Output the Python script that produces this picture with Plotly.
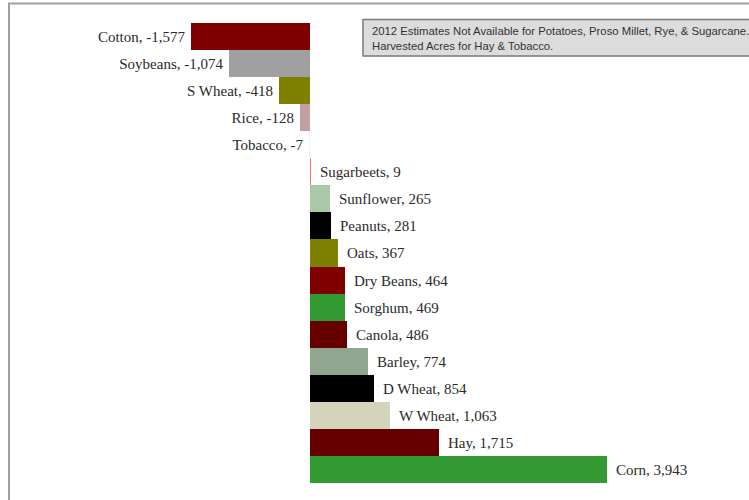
import plotly.graph_objects as go

crops = ["Cotton", "Soybeans", "S Wheat", "Rice", "Tobacco", "Sugarbeets", "Sunflower",
         "Peanuts", "Oats", "Dry Beans", "Sorghum", "Canola", "Barley", "D Wheat",
         "W Wheat", "Hay", "Corn"]
changes = [-1577, -1074, -418, -128, -7, 9, 265, 281, 367, 464, 469, 486, 774, 854,
           1063, 1715, 3943]
colors = ["#800000", "#a0a0a0", "#808000", "#c0a0a0", "#eef5ee", "#ff7070", "#a8c8a8",
          "#000000", "#808000", "#800000", "#339933", "#660000", "#8fa68f", "#000000",
          "#d4d4bc", "#660000", "#339933"]
note = ("2012 Estimates Not Available for Potatoes, Proso Millet, Rye, & Sugarcane.<br>"
        "Harvested Acres for Hay & Tobacco.")

labels = [(f"{c}, {v:,}\u2009" if v < 0 else f"\u2009\u2009{c}, {v:,}")
          for c, v in zip(crops, changes)]

fig = go.Figure(go.Bar(
    y=crops, x=changes, orientation="h",
    marker=dict(color=colors, line=dict(width=0)),
    text=labels, textposition="outside", cliponaxis=False,
    textfont=dict(family="Liberation Serif, Times New Roman, serif", size=15, color="#2a2a2a"),
    hoverinfo="skip",
))

L, R, T, B = 9, 0, 23, 17
W, H = 749, 500
pw, ph = W - L - R, H - T - B
px_per_unit = (607 - 310) / 3943.0
xmin = -(310 - L) / px_per_unit
xmax = xmin + pw / px_per_unit

fig.update_layout(
    width=W, height=H,
    margin=dict(l=L, r=R, t=T, b=B, autoexpand=False),
    paper_bgcolor="white", plot_bgcolor="white",
    bargap=0, showlegend=False,
    xaxis=dict(range=[xmin, xmax], visible=False, fixedrange=True),
    yaxis=dict(categoryorder="array", categoryarray=crops, autorange="reversed",
               visible=False, fixedrange=True),
    uniformtext=dict(mode=False),
)

def px2x(px):
    return (px - L) / pw

def py2y(py):
    return 1 - (py - T) / ph

# outer frame (cropped)
fig.add_shape(type="line", xref="paper", yref="paper", x0=px2x(8), x1=px2x(760),
              y0=py2y(3.5), y1=py2y(3.5), line=dict(color="#a0a0a0", width=2))
fig.add_shape(type="line", xref="paper", yref="paper", x0=px2x(9), x1=px2x(9),
              y0=py2y(3.5), y1=py2y(510), line=dict(color="#a0a0a0", width=2))

# note box
fig.add_shape(type="rect", xref="paper", yref="paper", x0=px2x(363), x1=px2x(800),
              y0=py2y(56), y1=py2y(19.5), fillcolor="#dcdcdc",
              line=dict(color="#7a7a7a", width=1.5))
fig.add_annotation(xref="paper", yref="paper", x=px2x(370), y=py2y(38.5),
                   xanchor="left", yanchor="middle", align="left", showarrow=False,
                   text=note, font=dict(family="Liberation Sans, Arial, sans-serif",
                                        size=11.3, color="#333333"))

fig.write_html("out.html", config={"displayModeBar": False},
               post_script="document.body.style.margin='0px';document.body.style.overflow='hidden';")
